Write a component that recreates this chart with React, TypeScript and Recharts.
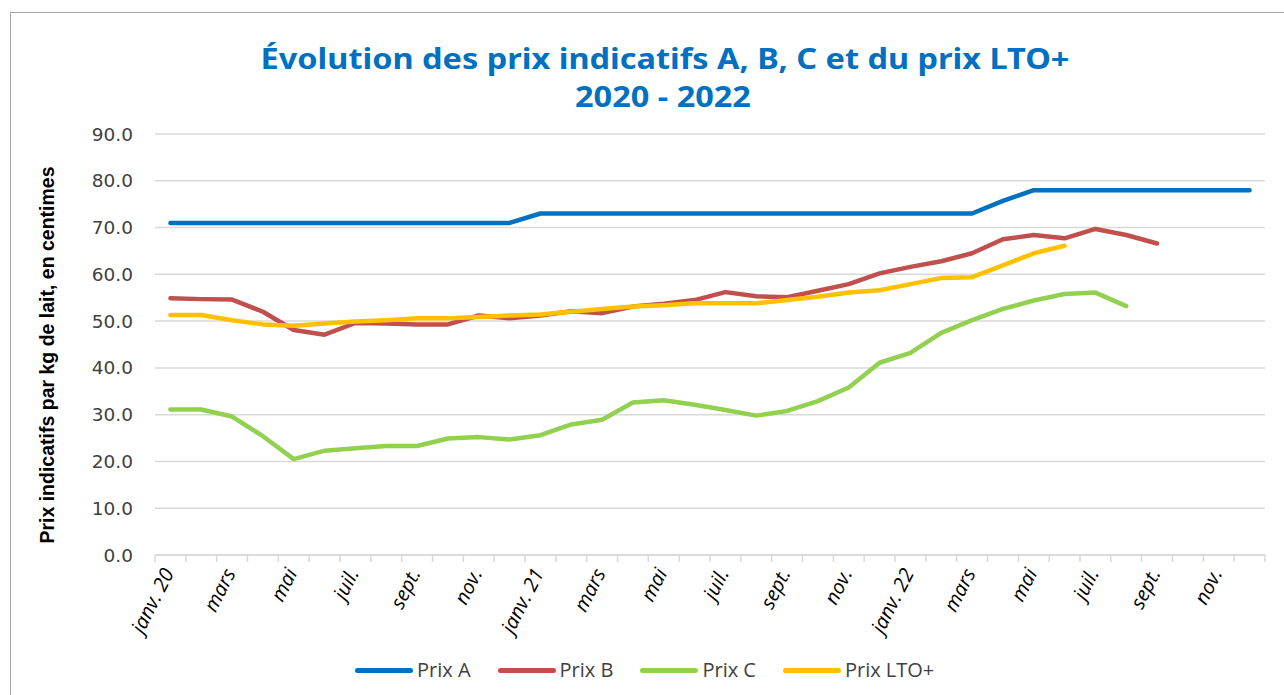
import { LineChart, Line, XAxis, YAxis, CartesianGrid, Legend } from 'recharts';

const MONTHS = [
  'janv. 20', 'févr.', 'mars', 'avr.', 'mai', 'juin', 'juil.', 'août', 'sept.', 'oct.', 'nov.', 'déc.',
  'janv. 21', 'févr.', 'mars', 'avr.', 'mai', 'juin', 'juil.', 'août', 'sept.', 'oct.', 'nov.', 'déc.',
  'janv. 22', 'févr.', 'mars', 'avr.', 'mai', 'juin', 'juil.', 'août', 'sept.', 'oct.', 'nov.', 'déc.',
];

const PRIX_A = [
  71, 71, 71, 71, 71, 71, 71, 71, 71, 71, 71, 71,
  73, 73, 73, 73, 73, 73, 73, 73, 73, 73, 73, 73,
  73, 73, 73, 75.7, 78, 78, 78, 78, 78, 78, 78, 78,
];

const PRIX_B = [
  54.9, 54.7, 54.6, 52.0, 48.1, 47.1, 49.6, 49.5, 49.3, 49.3, 51.2, 50.6,
  51.2, 52.1, 51.7, 53.1, 53.7, 54.5, 56.2, 55.3, 55.1, 56.5, 57.9, 60.2,
  61.6, 62.8, 64.5, 67.5, 68.4, 67.7, 69.7, 68.4, 66.6, null, null, null,
];

const PRIX_C = [
  31.1, 31.1, 29.6, 25.4, 20.5, 22.3, 22.8, 23.3, 23.3, 24.9, 25.2, 24.7,
  25.6, 27.9, 28.9, 32.6, 33.1, 32.1, 31.0, 29.8, 30.8, 32.9, 35.8, 41.1,
  43.2, 47.5, 50.2, 52.6, 54.4, 55.8, 56.1, 53.2, null, null, null, null,
];

const PRIX_LTO = [
  51.3, 51.3, 50.2, 49.3, 49.0, 49.5, 49.9, 50.2, 50.6, 50.6, 50.9, 51.2,
  51.4, 52.0, 52.6, 53.1, 53.4, 53.8, 53.8, 53.8, 54.5, 55.2, 56.1, 56.6,
  57.9, 59.2, 59.4, 61.9, 64.5, 66.1, null, null, null, null, null, null,
];

const Y_TICKS = [0, 10, 20, 30, 40, 50, 60, 70, 80, 90];

const SERIES = [
  { key: 'a', name: 'Prix A', color: '#0070C0' },
  { key: 'b', name: 'Prix B', color: '#C0504D' },
  { key: 'c', name: 'Prix C', color: '#92D050' },
  { key: 'lto', name: 'Prix LTO+', color: '#FFC000' },
];

const data = MONTHS.map((mois, i) => ({
  mois,
  a: PRIX_A[i],
  b: PRIX_B[i],
  c: PRIX_C[i],
  lto: PRIX_LTO[i],
}));

const W = 1284;
const H = 695;
const PLOT_LEFT = 155;
const PLOT_RIGHT = 1265;
const BAND = (PLOT_RIGHT - PLOT_LEFT) / MONTHS.length;
const GRID = '#d9d9d9';
const TITLE_BLUE = '#0070C0';

function MonthTick({ x, y, payload }: any) {
  const left = x - BAND / 2;
  const idx = payload.index;
  return (
    <g>
      <line x1={left} y1={y} x2={left} y2={y + 7} stroke={GRID} strokeWidth={1.5} />
      {idx === MONTHS.length - 1 && (
        <line x1={x + BAND / 2} y1={y} x2={x + BAND / 2} y2={y + 7} stroke={GRID} strokeWidth={1.5} />
      )}
      {idx % 2 === 0 && (
        <text
          transform={`translate(${x + 4},${y + 18}) rotate(-63)`}
          textAnchor="end"
          fontFamily="Open Sans"
          fontStyle="italic"
          fontSize={20}
          fill="#000"
        >
          {payload.value}
        </text>
      )}
    </g>
  );
}

function LegendContent() {
  return (
    <div style={{ display: 'flex', alignItems: 'center', paddingLeft: 355, gap: 27 }}>
      {SERIES.map((s) => (
        <div key={s.key} style={{ display: 'flex', alignItems: 'center' }}>
          <div style={{ width: 58, height: 5, borderRadius: 3, background: s.color, marginRight: 4 }} />
          <span style={{ fontFamily: 'Open Sans', fontSize: 20, color: '#404040', lineHeight: '26px' }}>
            {s.name}
          </span>
        </div>
      ))}
    </div>
  );
}

const titleStyle = {
  position: 'absolute' as const,
  width: 800,
  textAlign: 'center' as const,
  fontFamily: 'Noto Sans',
  fontWeight: 700,
  fontSize: 28,
  lineHeight: 1,
  color: TITLE_BLUE,
  whiteSpace: 'nowrap' as const,
  transform: 'scaleX(1.16)',
  transformOrigin: '50% 50%',
};

export default function App() {
  return (
    <div style={{ position: 'absolute', left: 0, top: 0, width: W, height: H, overflow: 'hidden', background: '#fff' }}>
      <div
        style={{
          position: 'absolute',
          left: 10,
          top: 12,
          width: W + 20,
          height: H + 20,
          border: '1.5px solid #a6a6a6',
        }}
      />
      <div style={{ ...titleStyle, left: 265, top: 44 }}>
        Évolution des prix indicatifs A, B, C et du prix LTO+
      </div>
      <div style={{ ...titleStyle, left: 263, top: 82 }}>2020 - 2022</div>
      <div
        style={{
          position: 'absolute',
          left: 47,
          top: 355,
          transform: 'translate(-50%, -50%) rotate(-90deg)',
          fontFamily: 'Liberation Sans',
          fontWeight: 700,
          fontSize: 19.5,
          color: '#000',
          whiteSpace: 'nowrap',
        }}
      >
        Prix indicatifs par kg de lait, en centimes
      </div>
      <div style={{ position: 'absolute', left: 0, top: 0 }}>
        <LineChart
          width={W}
          height={H}
          data={data}
          margin={{ top: 134, right: W - PLOT_RIGHT, bottom: 60, left: PLOT_LEFT - 60 }}
        >
          <CartesianGrid vertical={false} stroke={GRID} strokeWidth={1.5} />
          <XAxis
            dataKey="mois"
            padding={{ left: BAND / 2, right: BAND / 2 }}
            interval={0}
            height={80}
            tickSize={0}
            tickMargin={0}
            tickLine={false}
            axisLine={{ stroke: GRID, strokeWidth: 1.5 }}
            tick={<MonthTick />}
          />
          <YAxis
            width={60}
            domain={[0, 90]}
            ticks={Y_TICKS}
            tickFormatter={(v: number) => v.toFixed(1)}
            axisLine={false}
            tickLine={false}
            tickSize={0}
            tickMargin={22}
            tick={{ fontFamily: 'DejaVu Sans', fontSize: 18.5, fill: '#404040' }}
          />
          {SERIES.map((s) => (
            <Line
              key={s.key}
              type="linear"
              dataKey={s.key}
              name={s.name}
              stroke={s.color}
              strokeWidth={4.5}
              strokeLinecap="round"
              strokeLinejoin="round"
              dot={false}
              activeDot={false}
              isAnimationActive={false}
            />
          ))}
          <Legend
            layout="horizontal"
            verticalAlign="middle"
            align="center"
            wrapperStyle={{ top: 657, left: 0, width: W }}
            content={<LegendContent />}
          />
        </LineChart>
      </div>
    </div>
  );
}
